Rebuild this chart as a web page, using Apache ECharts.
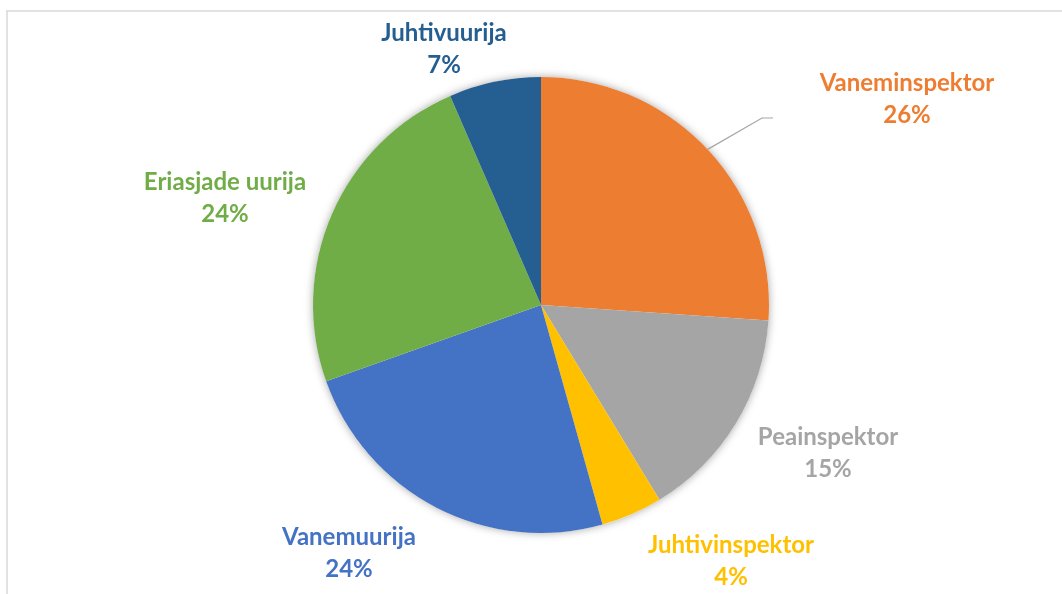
<!DOCTYPE html>
<html>
<head>
<meta charset="utf-8">
<script src="https://cdn.jsdelivr.net/npm/echarts@6/dist/echarts.min.js"></script>
<style>html,body{margin:0;padding:0;background:#fff}#c{width:1062px;height:594px}</style>
</head>
<body>
<div id="c"></div>
<script>
// Data
const categories = ['Vaneminspektor', 'Peainspektor', 'Juhtivinspektor', 'Vanemuurija', 'Eriasjade uurija', 'Juhtivuurija'];
const counts = [12, 7, 2, 11, 11, 3];

// Styles
const colors = ['#ED7D31', '#A5A5A5', '#FFC000', '#4472C4', '#70AD47', '#255E91'];
const labelPos = [[907, 99], [828, 453], [731, 561], [349, 553], [225, 198], [444, 49]];

const chart = echarts.init(document.getElementById('c'), null, {renderer: 'canvas'});
const total = counts.reduce((a, b) => a + b, 0);

const option = {
  animation: false,
  backgroundColor: '#fff',
  graphic: [{
    type: 'rect', silent: true,
    shape: {x: 7, y: 11, width: 1200, height: 800},
    style: {fill: 'none', stroke: '#d9d9d9', lineWidth: 1.5}
  }],
  series: [
    {
      type: 'pie', silent: true, z: 1,
      center: [541, 305], radius: [0, 228],
      label: {show: false}, labelLine: {show: false},
      data: [{value: total, itemStyle: {color: '#fff', shadowBlur: 9, shadowColor: 'rgba(0,0,0,0.35)'}}]
    },
    {
      type: 'pie', z: 2,
      center: [541, 305], radius: [0, 228],
      startAngle: 90, clockwise: true,
      itemStyle: {borderWidth: 0},
      label: {
        show: true, position: 'outside',
        fontFamily: 'Lato', fontWeight: 'bold', fontSize: 24, lineHeight: 32,
        align: 'center',
        formatter: p => p.name + '\n' + Math.round(p.percent) + '%'
      },
      labelLine: {show: false, length: 20, length2: 10, lineStyle: {color: '#a6a6a6', width: 1.2}},
      labelLayout: function (params) {
        const i = params.dataIndex;
        const pos = labelPos[i];
        const res = {x: pos[0], y: pos[1], align: 'center', verticalAlign: 'middle'};
        if (i === 0 && params.labelLinePoints) {
          const p0 = params.labelLinePoints[0];
          res.labelLinePoints = [p0, [pos[0] - 145, pos[1] + 19], [pos[0] - 134, pos[1] + 19]];
        }
        return res;
      },
      data: categories.map((n, i) => ({
        name: n, value: counts[i],
        itemStyle: {color: colors[i]},
        label: {color: colors[i]},
        labelLine: {show: i === 0}
      }))
    }
  ]
};
chart.setOption(option);
</script>
</body>
</html>
